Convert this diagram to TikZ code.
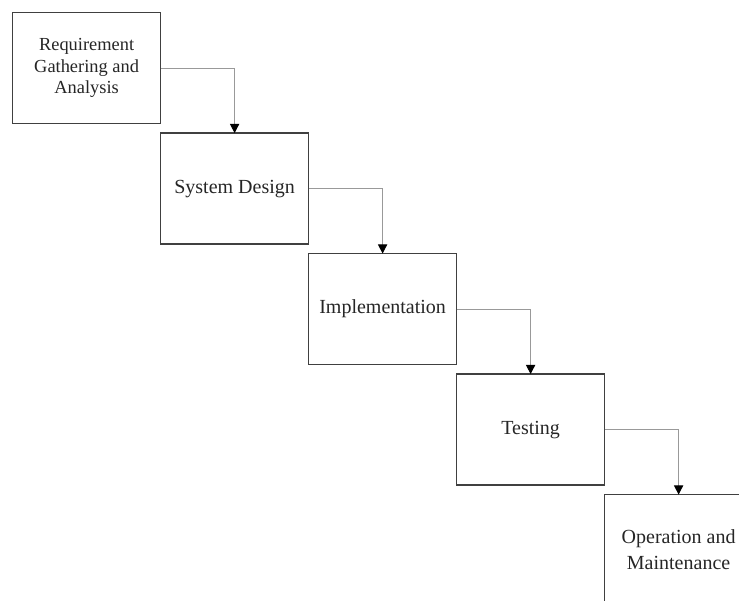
\documentclass[tikz,border=0pt]{standalone}
\usepackage{fontspec}
\setmainfont{Liberation Serif}
\usepackage{tikz}
\usetikzlibrary{positioning,arrows.meta}

\begin{document}
\begin{tikzpicture}[node distance=4.75pt and 0pt, >={Triangle[width=4.6pt,length=4.6pt,color=black]}]
    % Styles
    \tikzstyle{phase}=[rectangle, draw=black!75, line width=0.8pt, fill=white, align=center, minimum width=74pt, minimum height=55.5pt, inner sep=2pt, outer sep=0pt, text=black!85, font=\fontsize{10}{13}\selectfont]
    \tikzstyle{link}=[->, draw=black!40, line width=0.5pt]

    % Page frame
    \useasboundingbox (0,0) rectangle (369.5pt,-300pt);
    \clip (0,0) rectangle (369.5pt,-300pt);

    % Cascading phases
    \node (req) [phase, anchor=north west, font=\fontsize{9.2}{10.8}\selectfont] at (6.3pt,-6.3pt) {Requirement \\ Gathering and \\ Analysis};
    \node (design) [phase, below right=of req] {System Design};
    \node (impl) [phase, below right=of design] {Implementation};
    \node (test) [phase, below right=of impl] {Testing};
    \node (ops) [phase, below right=of test] {Operation and \\ Maintenance};

    % Arrows stepping down
    \draw[link] (req.east) -| (design.north);
    \draw[link] (design.east) -| (impl.north);
    \draw[link] (impl.east) -| (test.north);
    \draw[link] (test.east) -| (ops.north);

\end{tikzpicture}
\end{document}
